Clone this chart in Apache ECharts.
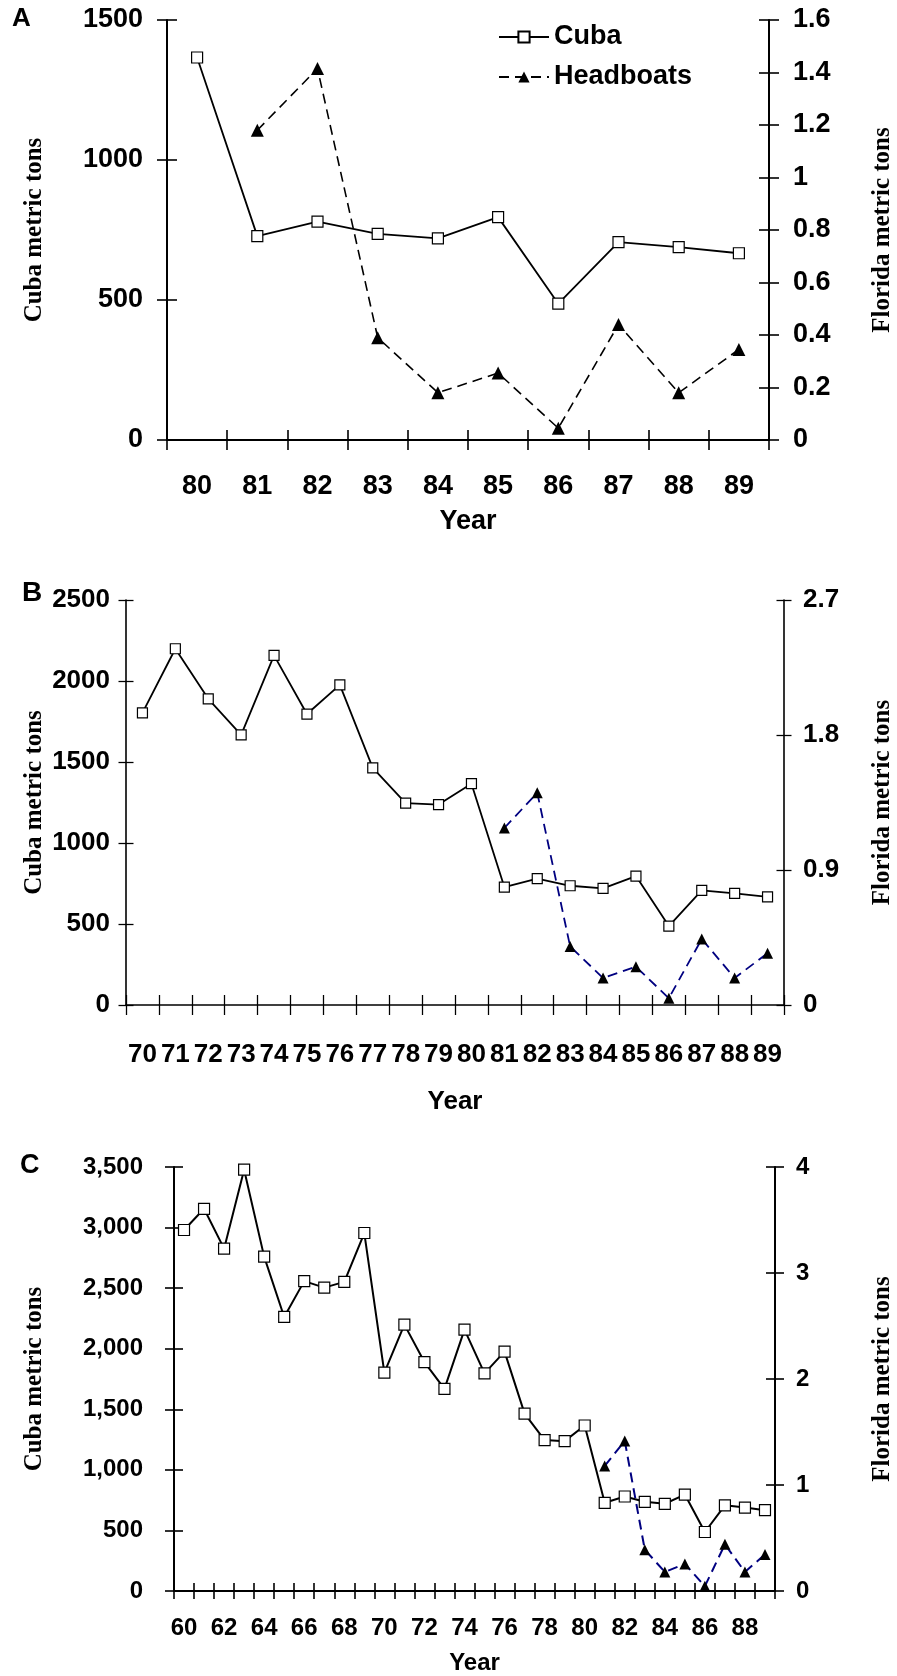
<!DOCTYPE html>
<html>
<head>
<meta charset="utf-8">
<script src="https://cdn.jsdelivr.net/npm/echarts@6/dist/echarts.min.js"></script>
<style>
html,body{margin:0;padding:0;background:#fff;}
#c{width:897px;height:1676px;}
</style>
</head>
<body>
<div id="c"></div>
<script>
// ---------------- data ----------------
const cubaYears = [60,61,62,63,64,65,66,67,68,69,70,71,72,73,74,75,76,77,78,79,80,81,82,83,84,85,86,87,88,89];
const cubaTons  = [2980,3155,2826,3478,2760,2262,2558,2504,2552,2955,1803,2199,1890,1668,2158,1796,1976,1464,1246,1237,1366,728,780,736,720,796,487,707,689,667];
const headboatYears = [81,82,83,84,85,86,87,88,89];
const headboatTons  = [1.18,1.415,0.39,0.18,0.255,0.045,0.44,0.18,0.345];

// first year shown in each panel
const panelStartYear = { A: 80, B: 70, C: 60 };
// axis tick labels (left = Cuba, right = Florida)
const leftTicksA  = [0, 500, 1000, 1500];
const rightTicksA = [0, 0.2, 0.4, 0.6, 0.8, 1, 1.2, 1.4, 1.6];
const leftTicksB  = [0, 500, 1000, 1500, 2000, 2500];
const rightTicksB = [0, 0.9, 1.8, 2.7];
const leftTicksC  = [0, 500, 1000, 1500, 2000, 2500, 3000, 3500];
const rightTicksC = [0, 1, 2, 3, 4];

const legendNames = ['Cuba', 'Headboats'];
const xName = 'Year';
const leftName = 'Cuba metric tons';
const rightName = 'Florida metric tons';

// ---------------- styles ----------------
const SANS = '"Liberation Sans", Arial, Helvetica, sans-serif';
const SERIF = '"Liberation Serif", "Times New Roman", serif';

const panelStyles = {
  A: { grid:{left:167,right:128,top:20,bottom:1236}, font:SANS, fs:27, xMargin:33.5, xNameGap:68.5, xNameFs:27,
       lMargin:24, rMargin:24, lNameGap:119.5, rNameGap:101.5, xTick:10, yTick:10, axisW:2,
       lineW:1.8, dashW:1.6, dash:[10,6], dashColor:'#000', sq:11, tri:13,
       letter:{x:12,y:19,fs:26}, leftTicks:leftTicksA, rightTicks:rightTicksA, labelInterval:0, comma:false },
  B: { grid:{left:126,right:113,top:600,bottom:671}, font:SANS, fs:26, xMargin:37, xNameGap:84, xNameFs:26,
       lMargin:16, rMargin:19, lNameGap:78.5, rNameGap:86.5, xTick:10, yTick:7.5, axisW:1.6,
       lineW:1.8, dashW:1.8, dash:[10,6], dashColor:'#000080', sq:10, tri:11,
       letter:{x:22,y:593,fs:28}, leftTicks:leftTicksB, rightTicks:rightTicksB, labelInterval:0, comma:false },
  C: { grid:{left:174,right:122,top:1167,bottom:85}, font:SANS, fs:24, xMargin:25, xNameGap:60, xNameFs:24,
       lMargin:31, rMargin:21, lNameGap:126.5, rNameGap:95.5, xTick:8, yTick:9, axisW:2,
       lineW:2, dashW:2, dash:[10,6], dashColor:'#000080', sq:11, tri:11,
       letter:{x:20,y:1166,fs:27}, leftTicks:leftTicksC, rightTicks:rightTicksC, labelInterval:1, comma:true }
};

// ---------------- build option ----------------
const grids = [], xAxes = [], yAxes = [], series = [], graphics = [];
const keys = ['A','B','C'];

keys.forEach((k, gi) => {
  const s = panelStyles[k];
  const start = panelStartYear[k];
  const cats = [], cuba = [], head = [];
  cubaYears.forEach((y, i) => {
    if (y >= start) {
      cats.push(String(y));
      cuba.push(cubaTons[i]);
      const hi = headboatYears.indexOf(y);
      head.push(hi >= 0 ? headboatTons[hi] : '-');
    }
  });
  grids.push(Object.assign({ outerBoundsMode: 'none', containLabel: false }, s.grid));

  const axisLine = { show: true, onZero: false, lineStyle: { color: '#000', width: s.axisW } };
  const tickStyle = { color: '#000', width: s.axisW * 0.8 };
  const labelFont = { color: '#000', fontFamily: s.font, fontWeight: 'bold', fontSize: s.fs };

  // x axis (main + inner ticks so the ticks cross the axis line)
  const xi = xAxes.length;
  xAxes.push({
    type: 'category', gridIndex: gi, position: 'bottom', data: cats, boundaryGap: true,
    axisLine: axisLine,
    axisTick: { show: true, interval: 0, length: s.xTick, inside: false, lineStyle: tickStyle },
    axisLabel: Object.assign({ interval: s.labelInterval, margin: s.xMargin, hideOverlap: false }, labelFont),
    splitLine: { show: false },
    name: xName, nameLocation: 'middle', nameGap: s.xNameGap, nameMoveOverlap: false,
    nameTextStyle: { color: '#000', fontFamily: s.font, fontWeight: 'bold', fontSize: s.xNameFs }
  });
  xAxes.push({
    type: 'category', gridIndex: gi, position: 'bottom', data: cats, boundaryGap: true,
    axisLine: { show: false, onZero: false },
    axisTick: { show: true, interval: 0, length: s.xTick, inside: true, lineStyle: tickStyle },
    axisLabel: { show: false }, splitLine: { show: false }
  });

  const lt = s.leftTicks, rt = s.rightTicks;
  const fmtL = v => s.comma ? String(v).replace(/\B(?=(\d{3})+(?!\d))/g, ',') : String(v);
  const fmtR = v => String(+v.toFixed(2));
  const yl = yAxes.length;
  yAxes.push({
    type: 'value', gridIndex: gi, position: 'left', min: lt[0], max: lt[lt.length-1], interval: lt[1]-lt[0],
    axisLine: axisLine,
    axisTick: { show: true, length: s.yTick, inside: false, lineStyle: tickStyle },
    axisLabel: Object.assign({ margin: s.lMargin, formatter: fmtL, showMinLabel: true, showMaxLabel: true }, labelFont),
    splitLine: { show: false },
    name: leftName, nameLocation: 'middle', nameRotate: 90, nameGap: s.lNameGap, nameMoveOverlap: false,
    nameTextStyle: { color: '#000', fontFamily: SERIF, fontWeight: 'bold', fontSize: 25 }
  });
  yAxes.push({
    type: 'value', gridIndex: gi, position: 'left', min: lt[0], max: lt[lt.length-1], interval: lt[1]-lt[0],
    axisLine: { show: false }, axisLabel: { show: false }, splitLine: { show: false },
    axisTick: { show: true, length: s.yTick, inside: true, lineStyle: tickStyle }
  });
  const yr = yAxes.length;
  yAxes.push({
    type: 'value', gridIndex: gi, position: 'right', min: rt[0], max: rt[rt.length-1], interval: +(rt[1]-rt[0]).toFixed(4),
    axisLine: axisLine,
    axisTick: { show: true, length: s.yTick, inside: false, lineStyle: tickStyle },
    axisLabel: Object.assign({ margin: s.rMargin, formatter: fmtR, showMinLabel: true, showMaxLabel: true }, labelFont),
    splitLine: { show: false },
    name: rightName, nameLocation: 'middle', nameRotate: 90, nameGap: s.rNameGap, nameMoveOverlap: false,
    nameTextStyle: { color: '#000', fontFamily: SERIF, fontWeight: 'bold', fontSize: 25 }
  });
  yAxes.push({
    type: 'value', gridIndex: gi, position: 'right', min: rt[0], max: rt[rt.length-1], interval: +(rt[1]-rt[0]).toFixed(4),
    axisLine: { show: false }, axisLabel: { show: false }, splitLine: { show: false },
    axisTick: { show: true, length: s.yTick, inside: true, lineStyle: tickStyle }
  });

  series.push({
    name: legendNames[0], type: 'line', xAxisIndex: xi, yAxisIndex: yl, data: cuba,
    symbol: 'rect', symbolSize: s.sq, showSymbol: true, z: 3,
    lineStyle: { color: '#000', width: s.lineW, type: 'solid' },
    itemStyle: { color: '#fff', borderColor: '#000', borderWidth: 1.2 },
    emphasis: { disabled: true }, animation: false
  });
  series.push({
    name: legendNames[1], type: 'line', xAxisIndex: xi, yAxisIndex: yr, data: head,
    symbol: 'triangle', symbolSize: s.tri, showSymbol: true, z: 4,
    lineStyle: { color: s.dashColor, width: s.dashW, type: s.dash },
    itemStyle: { color: '#000', borderColor: '#000', borderWidth: 0 },
    emphasis: { disabled: true }, animation: false
  });

  graphics.push({
    type: 'text', left: s.letter.x, top: s.letter.y - s.letter.fs / 2,
    style: { text: k, fill: '#000', font: 'bold ' + s.letter.fs + 'px ' + SANS }
  });
});

const option = {
  backgroundColor: '#fff',
  animation: false,
  grid: grids,
  xAxis: xAxes,
  yAxis: yAxes,
  series: series,
  graphic: graphics,
  legend: {
    data: legendNames, orient: 'vertical', left: 493, top: 18.5,
    itemWidth: 50, itemHeight: 14, itemGap: 13, selectedMode: false,
    textStyle: { color: '#000', fontFamily: SANS, fontWeight: 'bold', fontSize: 27 }
  }
};

const chart = echarts.init(document.getElementById('c'), null, { renderer: 'canvas' });
chart.setOption(option);
</script>
</body>
</html>
